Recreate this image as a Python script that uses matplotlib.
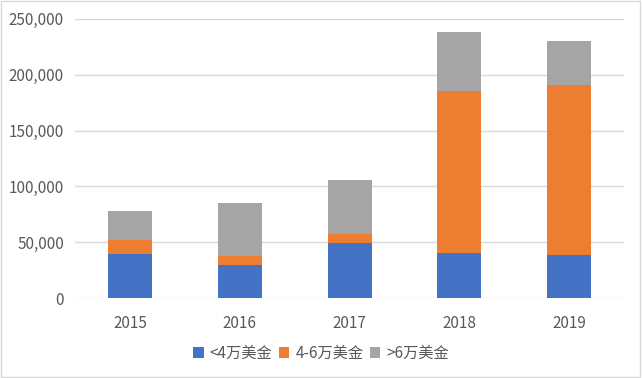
import matplotlib
matplotlib.use("Agg")
import matplotlib.pyplot as plt
from matplotlib.ticker import FuncFormatter
from matplotlib.patches import Rectangle

plt.rcParams['font.family'] = ['Noto Sans CJK SC', 'DejaVu Sans']

years = ["2015", "2016", "2017", "2018", "2019"]
under_4 = [39500, 29500, 49400, 40000, 38200]
mid_4_6 = [12300, 8300, 8300, 145400, 152800]
over_6 = [25900, 47000, 47700, 52700, 39000]
labels = ["<4万美金", "4-6万美金", ">6万美金"]
colors = ["#4472C4", "#ED7D31", "#A5A5A5"]

fig = plt.figure(figsize=(6.42, 3.78), dpi=100)
ax = fig.add_axes([0.117, 0.2116, 0.855, 0.7384])

x = range(len(years))
bottom = [0] * len(years)
handles = []
for vals, lab, col in zip([under_4, mid_4_6, over_6], labels, colors):
    b = ax.bar(x, vals, 0.4, bottom=bottom, color=col, label=lab, zorder=3)
    handles.append(b)
    bottom = [a + v for a, v in zip(bottom, vals)]

ax.set_xlim(-0.5, 4.5)
ax.set_ylim(0, 250000)
ax.set_yticks(range(0, 250001, 50000))
ax.yaxis.set_major_formatter(FuncFormatter(lambda v, p: f"{int(v):,}"))
ax.set_xticks(list(x))
ax.set_xticklabels(years)
ax.grid(axis="y", color="#D9D9D9", linewidth=1, zorder=0)
for s in ax.spines.values():
    s.set_visible(False)
ax.tick_params(length=0, colors="#595959", labelsize=11)
ax.tick_params(axis="x", pad=12)
ax.tick_params(axis="y", pad=8)

fig.legend(handles=handles, labels=labels, loc="center", bbox_to_anchor=(0.5, 0.066),
           ncol=3, frameon=False, fontsize=11, handlelength=0.7, handleheight=0.7,
           handletextpad=0.4, columnspacing=0.4, labelcolor="#595959")

fig.patches.append(Rectangle((0.002, 0.003), 0.995, 0.994, transform=fig.transFigure,
                             fill=False, edgecolor="#D9D9D9", linewidth=1))

fig.savefig("out.png", dpi=100)
